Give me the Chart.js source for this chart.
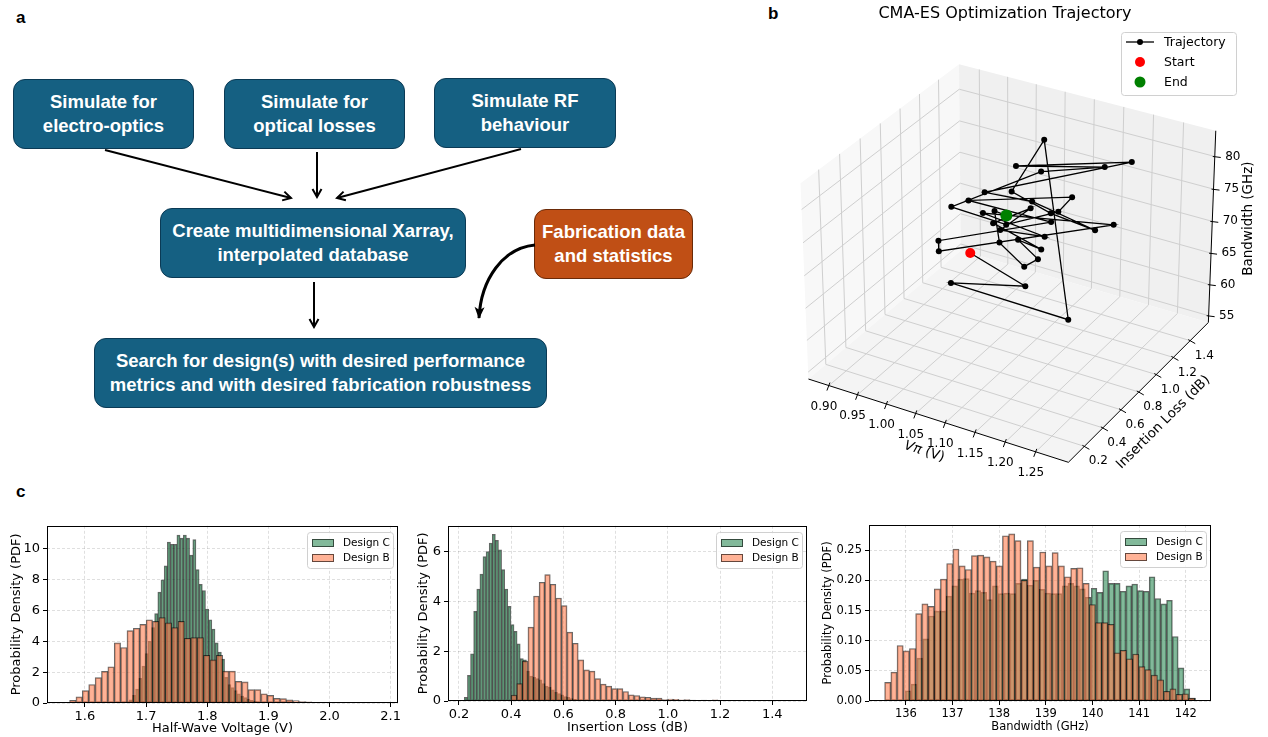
<!DOCTYPE html>
<html>
<head>
<meta charset="utf-8">
<script src="https://cdn.jsdelivr.net/npm/chart.js@4.4.1/dist/chart.umd.min.js"></script>
<style>
  body { margin: 0; width: 1268px; height: 737px; background: #fff; position: relative; overflow: hidden; font-family: "DejaVu Sans", sans-serif; }
  .tag { position: absolute; font: bold 17px "Liberation Sans", Arial, sans-serif; }
  .box { position: absolute; box-sizing: border-box; border: 1.5px solid #0b3a55; border-radius: 12px; background: #156082;
         color: #fff; display: flex; align-items: center; justify-content: center; text-align: center; white-space: nowrap;
         font: bold 18.5px "Liberation Sans", Arial, sans-serif; line-height: 24px; }
  .orange { background: #c04f15; border-color: #6a2a08; }
  canvas { position: absolute; }
</style>
</head>
<body>
<div class="tag" style="left:16px;top:8px">a</div>
<div class="tag" style="left:768px;top:4px">b</div>
<div class="tag" style="left:16px;top:482px">c</div>

<div class="box" style="left:13px;top:79px;width:181px;height:70px">Simulate for<br>electro-optics</div>
<div class="box" style="left:224px;top:79px;width:181px;height:70px">Simulate for<br>optical losses</div>
<div class="box" style="left:434px;top:78px;width:182px;height:70px">Simulate RF<br>behaviour</div>
<div class="box" style="left:160px;top:208px;width:306px;height:70px">Create multidimensional Xarray,<br>interpolated database</div>
<div class="box orange" style="left:534px;top:209px;width:159px;height:70px">Fabrication data<br>and statistics</div>
<div class="box" style="left:94px;top:338px;width:453px;height:70px">Search for design(s) with desired performance<br>metrics and with desired fabrication robustness</div>

<svg width="700" height="420" style="position:absolute;left:0;top:0">
  <defs>
    <marker id="ah" markerWidth="12" markerHeight="12" refX="10" refY="6" orient="auto" markerUnits="userSpaceOnUse">
      <path d="M2,1.5 L10,6 L2,10.5" fill="none" stroke="#000" stroke-width="2"/>
    </marker>
    <marker id="ahf" markerWidth="14" markerHeight="14" refX="12" refY="7" orient="auto" markerUnits="userSpaceOnUse">
      <path d="M1,2 L13,7 L1,12 L4,7 Z" fill="#000"/>
    </marker>
  </defs>
  <g stroke="#000" stroke-width="2" fill="none">
    <line x1="105" y1="150" x2="291" y2="198" marker-end="url(#ah)"/>
    <line x1="317" y1="152" x2="317" y2="197" marker-end="url(#ah)"/>
    <line x1="521" y1="149" x2="337" y2="198" marker-end="url(#ah)"/>
    <line x1="314" y1="282" x2="314" y2="327" marker-end="url(#ah)"/>
    <path d="M535,245 C503,248 481,279 479,318" stroke-width="3" marker-end="url(#ahf)"/>
  </g>
</svg>

<canvas id="traj" width="488" height="490" style="left:780px;top:0"></canvas>
<canvas id="h1" width="405" height="222" style="left:0;top:515px"></canvas>
<canvas id="h2" width="410" height="222" style="left:405px;top:515px"></canvas>
<canvas id="h3" width="453" height="222" style="left:815px;top:515px"></canvas>

<script>
// ---- panel b: CMA-ES trajectory (Vpi [V], insertion loss [dB], bandwidth [GHz]) ----
const vpiTraj = [1.039, 1.082, 1.032, 1.204, 1.076, 1.033, 1.186, 1.187, 1.118, 1.025, 1.211, 1.053, 1.178, 1.108, 0.994, 1.049, 1.113, 1.160,
                 1.050, 1.162, 1.025, 1.039, 1.183, 1.035, 1.090, 1.090, 1.103, 0.988, 1.183, 1.019, 1.091, 1.055, 1.063, 1.119, 1.062];
const ilTraj = [0.666, 0.984, 0.507, 0.666, 1.222, 1.143, 0.586, 1.064, 0.825, 0.905, 1.302, 1.064, 1.222, 0.984, 0.746, 0.984, 1.143, 0.984,
                0.586, 0.746, 0.428, 0.348, 1.302, 0.825, 1.143, 0.666, 0.905, 1.222, 0.507, 1.302, 1.064, 1.143, 0.825, 0.428, 0.905];
const bwTraj = [70.08, 61.98, 67.29, 64.22, 81.65, 73.59, 80.86, 72.47, 78.01, 76.11, 80.61, 78.94, 79.99, 80.38, 75.02, 70.77, 72.45, 77.80,
                79.34, 76.99, 74.56, 74.35, 70.28, 74.14, 67.99, 74.91, 75.62, 66.52, 76.39, 63.67, 65.48, 62.34, 70.32, 81.42, 73.49];
const vpiTicks3d = [0.90, 0.95, 1.00, 1.05, 1.10, 1.15, 1.20, 1.25];
const ilTicks3d = [0.2, 0.4, 0.6, 0.8, 1.0, 1.2, 1.4];
const bwTicks3d = [55, 60, 65, 70, 75, 80];
const VPI_LIM = [0.864, 1.303], IL_LIM = [0.03, 1.62], BW_LIM = [53.9, 83.9];

// ---- panel c: histograms (probability density per bin) ----
const vpiTicks = [1.6, 1.7, 1.8, 1.9, 2.0, 2.1];
const vpiDensTicks = [0, 2, 4, 6, 8, 10];
const vpiStartC = 1.662, vpiWidthC = 0.0052;
const vpiDensC = [0.03, 0.08, 0.2, 0.5, 0.9, 1.6, 2.4, 3.2, 4.0, 4.9, 5.8, 7.2, 8.0, 8.9, 10.45, 10.3, 10.3, 10.9, 10.7, 10.9,
                  10.7, 9.6, 10.6, 8.66, 7.7, 7.3, 6.1, 5.4, 4.8, 3.9, 3.3, 2.85, 1.66, 1.2, 1.0, 0.8, 0.6, 0.45, 0.35, 0.25,
                  0.18, 0.12, 0.08, 0.05, 0.04, 0.03, 0.02, 0.01, 0.01, 0.005];
const vpiStartB = 1.5645, vpiWidthB = 0.01043;
const vpiDensB = [0.05, 0.18, 0.4, 0.8, 1.2, 1.65, 2.05, 2.35, 3.9, 3.6, 4.7, 4.85, 5.1, 5.4, 5.3, 5.55, 5.2, 4.9, 5.3, 4.2,
                  4.25, 4.25, 3.1, 2.8, 3.1, 2.07, 2.07, 1.4, 1.37, 0.87, 0.87, 0.6, 0.5, 0.3, 0.28, 0.2, 0.15, 0.1, 0.08, 0.05,
                  0.04, 0.03, 0.02, 0.02, 0.01, 0.01, 0.01, 0.005, 0.005, 0.01];

const ilTicks = [0.2, 0.4, 0.6, 0.8, 1.0, 1.2, 1.4];
const ilDensTicks = [0, 2, 4, 6];
const ilStartC = 0.2205, ilWidthC = 0.0119;
const ilDensC = [0.15, 1.03, 1.9, 3.6, 4.5, 5.1, 5.8, 6.0, 6.35, 6.7, 6.46, 6.07, 5.28, 4.5, 3.8, 3.07, 2.8, 2.3, 1.7, 1.65,
                 1.2, 1.0, 0.95, 0.9, 0.85, 0.7, 0.6, 0.55, 0.45, 0.35, 0.3, 0.25, 0.18, 0.15, 0.1, 0.07, 0.05, 0.04, 0.03, 0.02,
                 0.02, 0.01, 0.01, 0.01, 0.005, 0.005, 0, 0.005, 0, 0.005];
const ilStartB = 0.40, ilWidthB = 0.0214;
const ilDensB = [0.24, 0.7, 1.6, 2.97, 4.22, 4.77, 5.08, 4.69, 4.14, 3.83, 2.77, 2.32, 1.65, 1.25, 1.2, 0.9, 0.68, 0.6, 0.5, 0.5,
                 0.38, 0.25, 0.22, 0.17, 0.15, 0.12, 0.12, 0.06, 0.08, 0.07, 0.05, 0.06, 0.04, 0.03, 0.04, 0.02, 0.05, 0.02, 0.02, 0.01,
                 0.03, 0.01, 0.01, 0.01, 0.02, 0.01, 0.01, 0.005, 0.01, 0.01];

const bwTicks = [136, 137, 138, 139, 140, 141, 142];
const bwDensTicks = [0, 0.05, 0.10, 0.15, 0.20, 0.25];
const bwStartC = 135.99, bwWidthC = 0.1244;
const bwDensC = [0.017, 0.028, 0.071, 0.103, 0.141, 0.149, 0.149, 0.174, 0.191, 0.202, 0.203, 0.179, 0.183, 0.18, 0.168, 0.191, 0.178,
                 0.179, 0.178, 0.195, 0.202, 0.192, 0.2, 0.185, 0.179, 0.178, 0.178, 0.191, 0.195, 0.191, 0.186, 0.172, 0.187, 0.18,
                 0.216, 0.195, 0.195, 0.182, 0.191, 0.194, 0.183, 0.182, 0.206, 0.17, 0.161, 0.167, 0.107, 0.055, 0.02, 0.005];
const bwStartB = 135.545, bwWidthB = 0.1329;
const bwDensB = [0.031, 0.048, 0.092, 0.083, 0.087, 0.145, 0.161, 0.157, 0.186, 0.202, 0.228, 0.252, 0.224, 0.218, 0.241, 0.242, 0.239,
                 0.232, 0.224, 0.274, 0.277, 0.266, 0.2, 0.266, 0.222, 0.247, 0.224, 0.246, 0.224, 0.206, 0.22, 0.221, 0.195, 0.16,
                 0.13, 0.13, 0.127, 0.08, 0.084, 0.07, 0.078, 0.057, 0.052, 0.043, 0.035, 0.016, 0.02, 0.011, 0.012, 0.005];

const GREEN = 'rgba(46,139,87,0.6)', CORAL = 'rgba(255,127,80,0.6)', EDGE = 'rgba(0,0,0,0.6)';

function binPoints(start, width, dens) {
  return dens.map((d, i) => ({ x: start + (i + 0.5) * width, y: d }));
}

// frame on all four sides + matplotlib-like legend
const histFrame = {
  id: 'histFrame',
  afterDraw(chart) {
    const { ctx, chartArea: a } = chart;
    ctx.save();
    ctx.strokeStyle = '#000';
    ctx.lineWidth = 1;
    ctx.strokeRect(Math.round(a.left) + 0.5, Math.round(a.top) + 0.5, Math.round(a.right - a.left) - 1, Math.round(a.bottom - a.top) - 1);
    const w = 86, h = 36, x = Math.round(a.right) - 5 - w, y = Math.round(a.top) + 6;
    ctx.beginPath();
    ctx.roundRect(x + 0.5, y + 0.5, w, h, 3);
    ctx.fillStyle = 'rgba(255,255,255,0.8)';
    ctx.fill();
    ctx.strokeStyle = '#d0d0d0';
    ctx.stroke();
    ctx.font = '10.5px "DejaVu Sans"';
    ctx.textBaseline = 'middle';
    chart.data.datasets.forEach((ds, i) => {
      const cy = y + 11 + i * 15;
      ctx.fillStyle = ds.backgroundColor;
      ctx.fillRect(x + 5, cy - 4, 22, 8);
      ctx.strokeStyle = ds.borderColor;
      ctx.strokeRect(x + 5.5, cy - 3.5, 21, 7);
      ctx.fillStyle = '#000';
      ctx.fillText(ds.label, x + 36, cy + 0.5);
    });
    ctx.restore();
  }
};

function makeHist(id, c) {
  const canvas = document.getElementById(id);
  const font = { family: 'DejaVu Sans', size: c.font };
  const grid = { offset: false, color: 'rgba(0,0,0,0.16)', lineWidth: 0.8, tickLength: 4, tickColor: '#000', tickWidth: 1 };
  const pxPerUnit = (canvas.width - c.pad.left - c.pad.right - c.yW) / (c.xlim[1] - c.xlim[0]);
  const bar = { borderColor: EDGE, borderWidth: 1, borderSkipped: false, grouped: false };
  new Chart(canvas, {
    type: 'bar',
    data: {
      datasets: [
        { label: 'Design C', data: binPoints(c.startC, c.widthC, c.densC), xAxisID: 'xc', order: 1, backgroundColor: GREEN,
          barThickness: c.widthC * pxPerUnit, ...bar },
        { label: 'Design B', data: binPoints(c.startB, c.widthB, c.densB), xAxisID: 'x', order: 0, backgroundColor: CORAL,
          barThickness: c.widthB * pxPerUnit, ...bar }
      ]
    },
    options: {
      responsive: false,
      animation: false,
      events: [],
      layout: { padding: c.pad },
      plugins: { legend: { display: false }, tooltip: { enabled: false } },
      scales: {
        x: {
          type: 'linear', min: c.xlim[0], max: c.xlim[1], offset: false, grid,
          border: { display: false, dash: [3, 2] },
          ticks: { font, color: '#000', padding: 2, maxRotation: 0, callback: v => v.toFixed(c.xDec) },
          afterBuildTicks: s => { s.ticks = c.xTicks.map(v => ({ value: v })); },
          afterFit: s => { s.height = c.xH; },
          title: { display: true, text: c.xTitle, font, color: '#000', padding: { top: 0, bottom: c.xTitlePad } }
        },
        xc: { type: 'linear', display: false, min: c.xlim[0], max: c.xlim[1], offset: false, grid: { offset: false } },
        y: {
          type: 'linear', min: 0, max: c.ymax, grid,
          border: { display: false, dash: [3, 2] },
          ticks: { font, color: '#000', padding: 3, callback: v => v.toFixed(c.yDec) },
          afterBuildTicks: s => { s.ticks = c.yTicks.map(v => ({ value: v })); },
          afterFit: s => { s.width = c.yW; },
          title: { display: true, text: 'Probability Density (PDF)', font, color: '#000', padding: { top: c.yTitlePad, bottom: 0 } }
        }
      }
    },
    plugins: [histFrame]
  });
}

makeHist('h1', {
  startC: vpiStartC, widthC: vpiWidthC, densC: vpiDensC, startB: vpiStartB, widthB: vpiWidthB, densB: vpiDensB,
  xlim: [1.538, 2.112], ymax: 11.5, xTicks: vpiTicks, yTicks: vpiDensTicks, xDec: 1, yDec: 0,
  xTitle: 'Half-Wave Voltage (V)', font: 13, pad: { left: 0, top: 8, right: 7, bottom: 0 }, xH: 34, yW: 47, xTitlePad: 1, yTitlePad: 9
});
makeHist('h2', {
  startC: ilStartC, widthC: ilWidthC, densC: ilDensC, startB: ilStartB, widthB: ilWidthB, densB: ilDensB,
  xlim: [0.158, 1.533], ymax: 7.04, xTicks: ilTicks, yTicks: ilDensTicks, xDec: 1, yDec: 0,
  xTitle: 'Insertion Loss (dB)', font: 13, pad: { left: 0, top: 7, right: 8, bottom: 0 }, xH: 36, yW: 43, xTitlePad: 2, yTitlePad: 11
});
makeHist('h3', {
  startC: bwStartC, widthC: bwWidthC, densC: bwDensC, startB: bwStartB, widthB: bwWidthB, densB: bwDensB,
  xlim: [135.21, 142.54], ymax: 0.292, xTicks: bwTicks, yTicks: bwDensTicks, xDec: 0, yDec: 2,
  xTitle: 'Bandwidth (GHz)', font: 11.5, pad: { left: 0, top: 6, right: 57, bottom: 0 }, xH: 36, yW: 54, xTitlePad: 3, yTitlePad: 6
});

// ---- 3D projection (matplotlib default view elev 30, azim -60) ----
const ELEV = 30 * Math.PI / 180, AZIM = -60 * Math.PI / 180, DIST = 10;
const S3D = 305.7, CX3D = 231.2, CY3D = 255.5;

function proj(v, il, bw) {
  const x = (v - VPI_LIM[0]) / (VPI_LIM[1] - VPI_LIM[0]) - 0.5;
  const y = (il - IL_LIM[0]) / (IL_LIM[1] - IL_LIM[0]) - 0.5;
  const z = ((bw - BW_LIM[0]) / (BW_LIM[1] - BW_LIM[0]) - 0.5) * 0.75;
  const r = -Math.sin(AZIM) * x + Math.cos(AZIM) * y;
  const u = -Math.sin(ELEV) * Math.cos(AZIM) * x - Math.sin(ELEV) * Math.sin(AZIM) * y + Math.cos(ELEV) * z;
  const d = Math.cos(ELEV) * Math.cos(AZIM) * x + Math.cos(ELEV) * Math.sin(AZIM) * y + Math.sin(ELEV) * z;
  const f = DIST / (DIST - d);
  return { x: CX3D + S3D * r * f, y: CY3D - S3D * u * f };
}

const axes3d = {
  id: 'axes3d',
  beforeDatasetsDraw(chart) {
    const { ctx } = chart;
    const sx = chart.scales.x, sy = chart.scales.y;
    const P = (v, il, bw) => { const p = proj(v, il, bw); return [sx.getPixelForValue(p.x), sy.getPixelForValue(p.y)]; };
    const [v0, v1] = VPI_LIM, [i0, i1] = IL_LIM, [b0, b1] = BW_LIM;
    const poly = (pts, fill) => {
      ctx.beginPath();
      pts.forEach((p, k) => k ? ctx.lineTo(p[0], p[1]) : ctx.moveTo(p[0], p[1]));
      ctx.closePath();
      ctx.fillStyle = fill;
      ctx.fill();
    };
    const seg = (a, b) => { ctx.beginPath(); ctx.moveTo(a[0], a[1]); ctx.lineTo(b[0], b[1]); ctx.stroke(); };
    ctx.save();
    poly([P(v0, i0, b0), P(v0, i1, b0), P(v0, i1, b1), P(v0, i0, b1)], '#f8f8f8');
    poly([P(v0, i1, b0), P(v1, i1, b0), P(v1, i1, b1), P(v0, i1, b1)], '#f0f0f0');
    poly([P(v0, i0, b0), P(v1, i0, b0), P(v1, i1, b0), P(v0, i1, b0)], '#f4f4f4');

    ctx.strokeStyle = '#cfcfcf';
    ctx.lineWidth = 1;
    vpiTicks3d.forEach(v => { seg(P(v, i0, b0), P(v, i1, b0)); seg(P(v, i1, b0), P(v, i1, b1)); });
    ilTicks3d.forEach(il => { seg(P(v0, il, b0), P(v1, il, b0)); seg(P(v0, il, b0), P(v0, il, b1)); });
    bwTicks3d.forEach(bw => { seg(P(v0, i0, bw), P(v0, i1, bw)); seg(P(v0, i1, bw), P(v1, i1, bw)); });

    ctx.strokeStyle = '#000';
    ctx.lineWidth = 1;
    seg(P(v0, i0, b0), P(v1, i0, b0));
    seg(P(v1, i0, b0), P(v1, i1, b0));
    seg(P(v1, i1, b0), P(v1, i1, b1));

    ctx.fillStyle = '#000';
    ctx.font = '12px "DejaVu Sans"';
    ctx.textAlign = 'center';
    ctx.textBaseline = 'middle';
    vpiTicks3d.forEach(v => {
      const p = P(v, i0, b0);
      seg([p[0] + 1, p[1] - 3], [p[0] - 2, p[1] + 5]);
      ctx.fillText(v.toFixed(2), p[0] - 5, p[1] + 21);
    });
    ilTicks3d.forEach(il => {
      const p = P(v1, il, b0);
      seg([p[0] - 2, p[1] - 1], [p[0] + 5, p[1] + 3]);
      ctx.fillText(il.toFixed(1), p[0] + 14, p[1] + 15);
    });
    bwTicks3d.forEach(bw => {
      const p = P(v1, i1, bw);
      seg([p[0] - 2, p[1]], [p[0] + 6, p[1] + 1]);
      ctx.fillText(String(bw), p[0] + 18, p[1]);
    });

    // axis titles
    const A = P(v0, i0, b0), B = P(v1, i0, b0), C = P(v1, i1, b0), Ct = P(v1, i1, b1);
    const label = (cx, cy, ang, parts) => {
      ctx.save();
      ctx.translate(cx, cy);
      ctx.rotate(ang);
      ctx.textAlign = 'left';
      let total = 0;
      parts.forEach(p => { ctx.font = p[1]; total += ctx.measureText(p[0]).width; });
      let x = -total / 2;
      parts.forEach(p => { ctx.font = p[1]; ctx.fillText(p[0], x, 0); x += ctx.measureText(p[0]).width; });
      ctx.restore();
    };
    label((A[0] + B[0]) / 2 - 14, (A[1] + B[1]) / 2 + 31, Math.atan2(B[1] - A[1], B[0] - A[0]),
      [['Vπ', 'italic 13.5px "DejaVu Sans"'], [' (V)', '13.5px "DejaVu Sans"']]);
    label((B[0] + C[0]) / 2 + 25, (B[1] + C[1]) / 2 + 30, Math.atan2(C[1] - B[1], C[0] - B[0]),
      [['Insertion Loss (dB)', '13.5px "DejaVu Sans"']]);
    label((C[0] + Ct[0]) / 2 + 36, (C[1] + Ct[1]) / 2 - 8, -Math.PI / 2,
      [['Bandwidth (GHz)', '13.5px "DejaVu Sans"']]);
    ctx.restore();
  },
  afterDraw(chart) {
    const { ctx } = chart;
    ctx.save();
    ctx.fillStyle = '#000';
    ctx.font = '16px "DejaVu Sans"';
    ctx.textAlign = 'center';
    ctx.textBaseline = 'middle';
    ctx.fillText('CMA-ES Optimization Trajectory', 225, 14);
    // legend
    const x = 341, y = 32;
    ctx.beginPath();
    ctx.roundRect(x + 0.5, y + 0.5, 115, 63, 3);
    ctx.fillStyle = 'rgba(255,255,255,0.8)';
    ctx.fill();
    ctx.strokeStyle = '#d0d0d0';
    ctx.stroke();
    ctx.strokeStyle = '#000';
    ctx.lineWidth = 1.3;
    ctx.beginPath(); ctx.moveTo(x + 5, y + 10); ctx.lineTo(x + 33, y + 10); ctx.stroke();
    const dot = (cx, cy, r, col) => { ctx.beginPath(); ctx.arc(cx, cy, r, 0, Math.PI * 2); ctx.fillStyle = col; ctx.fill(); };
    dot(x + 19, y + 10, 3, '#000');
    dot(x + 19, y + 30, 5, '#ff0000');
    dot(x + 19, y + 50, 5.5, '#008000');
    ctx.fillStyle = '#000';
    ctx.font = '12.5px "DejaVu Sans"';
    ctx.textAlign = 'left';
    ctx.fillText('Trajectory', x + 43, y + 11);
    ctx.fillText('Start', x + 43, y + 31);
    ctx.fillText('End', x + 43, y + 51);
    ctx.restore();
  }
};

const last = vpiTraj.length - 1;
new Chart(document.getElementById('traj'), {
  type: 'scatter',
  data: {
    datasets: [
      { label: 'Trajectory', data: vpiTraj.map((v, i) => proj(v, ilTraj[i], bwTraj[i])), showLine: true, borderColor: '#000',
        borderWidth: 1.3, pointRadius: 3, pointBackgroundColor: '#000', pointBorderWidth: 0, order: 2 },
      { label: 'Start', data: [proj(vpiTraj[0], ilTraj[0], bwTraj[0])], pointRadius: 5, pointBackgroundColor: '#ff0000',
        pointBorderWidth: 0, order: 1 },
      { label: 'End', data: [proj(vpiTraj[last], ilTraj[last], bwTraj[last])], pointRadius: 6, pointBackgroundColor: '#008000',
        pointBorderWidth: 0, order: 0 }
    ]
  },
  options: {
    responsive: false,
    animation: false,
    events: [],
    layout: { padding: 0 },
    plugins: { legend: { display: false }, tooltip: { enabled: false } },
    scales: {
      x: { type: 'linear', display: false, min: 0, max: 488 },
      y: { type: 'linear', display: false, min: 0, max: 490, reverse: true }
    }
  },
  plugins: [axes3d]
});
</script>
</body>
</html>
